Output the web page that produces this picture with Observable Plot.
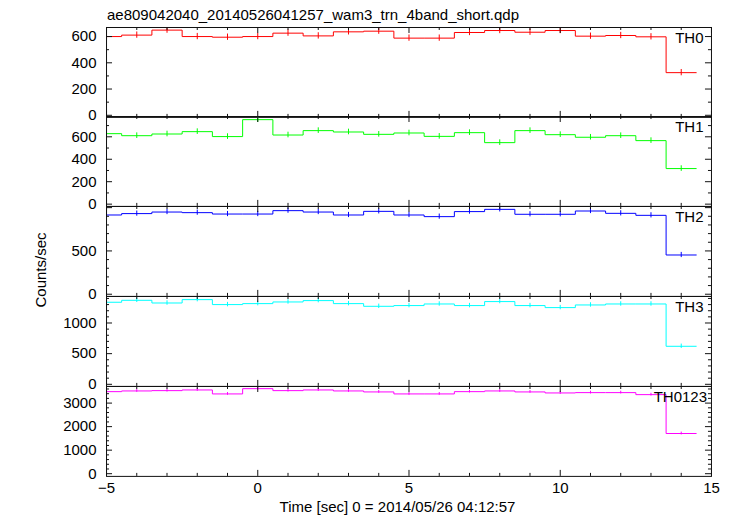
<!DOCTYPE html>
<html>
<head>
<meta charset="utf-8">
<script src="https://cdn.jsdelivr.net/npm/d3@7"></script>
<script src="https://cdn.jsdelivr.net/npm/@observablehq/plot@0.6"></script>
<style>
  html, body { margin: 0; padding: 0; background: white; }
  #chart { position: relative; width: 733px; height: 516px; background: white; overflow: hidden; }
  #chart svg { position: absolute; left: 0; }
</style>
</head>
<body>
<div id="chart"></div>
<script>
// ---- data ----
const title = "ae809042040_20140526041257_wam3_trn_4band_short.qdp";
const xLabel = "Time [sec] 0 = 2014/05/26 04:12:57";
const yLabel = "Counts/sec";
const bands = ["TH0", "TH1", "TH2", "TH3", "TH0123"];
const colors = ["#ff0000", "#00ff00", "#0000ff", "#00ffff", "#ff00ff"];
const times = [-5, -4, -3, -2, -1, 0, 1, 2, 3, 4, 5, 6, 7, 8, 9, 10, 11, 12, 13, 14];
const th0 = [600, 611, 649, 600, 595, 600, 626, 605, 636, 641, 588, 588, 631, 646, 633, 646, 603, 608, 598, 325];
const th1 = [628, 610, 625, 646, 602, 753, 616, 655, 643, 622, 634, 604, 637, 548, 655, 619, 596, 610, 566, 317];
const th2 = [915, 931, 949, 942, 926, 926, 965, 949, 915, 957, 915, 896, 954, 980, 923, 923, 961, 934, 911, 453];
const th3 = [1338, 1370, 1326, 1381, 1300, 1316, 1343, 1365, 1316, 1272, 1284, 1310, 1284, 1349, 1284, 1251, 1294, 1310, 1310, 620];
const th0123 = [3487, 3517, 3530, 3559, 3390, 3614, 3530, 3559, 3517, 3475, 3390, 3390, 3487, 3517, 3475, 3432, 3446, 3446, 3360, 1708];
const series = [th0, th1, th2, th3, th0123];
const errors = [24, 25, 30, 36, 59];           // estimated error bar half-length per band
const binWidth = 1;
const yDomains = [[-16, 669], [-20, 781], [-25, 1013], [-34, 1432], [-115, 3706]];
const yLabelTicks = [[0, 200, 400, 600], [0, 200, 400, 600], [0, 500], [0, 500, 1000], [0, 1000, 2000, 3000]];
const yMajorTicks = [[0, 200, 400, 600], [0, 200, 400, 600], [0, 500, 1000], [0, 500, 1000], [0, 1000, 2000, 3000]];
const yMinorTicks = [
  [100, 300, 500],
  [100, 300, 500, 700],
  [100, 200, 300, 400, 600, 700, 800, 900],
  [100, 200, 300, 400, 600, 700, 800, 900, 1100, 1200, 1300, 1400],
  [200, 400, 600, 800, 1200, 1400, 1600, 1800, 2200, 2400, 2600, 2800, 3200, 3400, 3600]
];
const xLabelTicks = [-5, 0, 5, 10, 15];
const xMajorTicks = [-5, 0, 5, 10, 15];
const xMinorTicks = [-4, -3, -2, -1, 1, 2, 3, 4, 6, 7, 8, 9, 11, 12, 13, 14];

// ---- layout ----
const W = 733, ML = 106, MR = 22;
const bounds = [26.5, 116.4, 206.3, 296.2, 386.1, 476];
const font = "'Liberation Sans', Arial, Helvetica, sans-serif";
const chart = document.getElementById("chart");
const innerW = W - ML - MR;
const fmt = d => (d < 0 ? "\u2212" : "") + Math.abs(d);

bands.forEach((band, i) => {
  const vals = series[i];
  const steps = vals.map((v, k) => ({x: times[k] - binWidth / 2, y: v}));
  steps.push({x: times[times.length - 1] + binWidth / 2, y: vals[vals.length - 1]});
  const pts = vals.map((v, k) => ({t: times[k], v, lo: v - errors[i], hi: v + errors[i]}));
  const innerH = bounds[i + 1] - bounds[i];
  const mt = 8, mb = i === 4 ? 40 : 8;
  const last = i === 4;
  const marks = [
    Plot.line(steps, {x: "x", y: "y", curve: "step-after", stroke: colors[i], strokeWidth: 1, clip: true}),
    Plot.ruleX(pts, {x: "t", y1: "lo", y2: "hi", stroke: colors[i], strokeWidth: 1, clip: true}),
    // inward y ticks left & right
    Plot.tickY(yMajorTicks[i], {y: d => d, insetRight: innerW - 6, stroke: "#111"}),
    Plot.tickY(yMinorTicks[i], {y: d => d, insetRight: innerW - 3, stroke: "#111"}),
    Plot.tickY(yMajorTicks[i], {y: d => d, insetLeft: innerW - 6, stroke: "#111"}),
    Plot.tickY(yMinorTicks[i], {y: d => d, insetLeft: innerW - 3, stroke: "#111"}),
    // inward x ticks top & bottom
    Plot.tickX(xMajorTicks, {x: d => d, insetTop: innerH - 6, stroke: "#111"}),
    Plot.tickX(xMinorTicks, {x: d => d, insetTop: innerH - 3, stroke: "#111"}),
    Plot.tickX(xMajorTicks, {x: d => d, insetBottom: innerH - 6, stroke: "#111"}),
    Plot.tickX(xMinorTicks, {x: d => d, insetBottom: innerH - 3, stroke: "#111"}),
    Plot.frame({stroke: "#111", strokeWidth: 1}),
    Plot.axisY(yLabelTicks[i], {tickSize: 0, tickPadding: 10, label: null, tickFormat: fmt, fontSize: 15, fill: "#000"}),
    Plot.text([band], {frameAnchor: "top-right", lineAnchor: "top", dx: last ? -4.5 : -8, dy: 5, fontSize: 15, fill: "#000"})
  ];
  if (last) marks.push(Plot.axisX(xLabelTicks, {tickSize: 0, tickPadding: 6, label: null, tickFormat: fmt, fontSize: 15, fill: "#000"}));
  const svg = Plot.plot({
    width: W,
    height: innerH + mt + mb,
    marginLeft: ML, marginRight: MR, marginTop: mt, marginBottom: mb,
    x: last ? {domain: [-5, 15]} : {domain: [-5, 15], axis: null},
    y: {domain: yDomains[i]},
    style: {background: "transparent", overflow: "visible", fontFamily: font, fontSize: "15px", color: "#000"},
    marks
  });
  svg.style.top = (bounds[i] - mt) + "px";
  chart.appendChild(svg);
});

// ---- title and axis labels ----
const overlay = d3.create("svg").attr("width", W).attr("height", 516)
  .style("top", "0px").style("pointer-events", "none")
  .style("font-family", font).style("font-size", "15px");
overlay.append("text").attr("x", 107).attr("y", 19.5).text(title);
overlay.append("text").attr("x", 397.5).attr("y", 511.5).attr("text-anchor", "middle").text(xLabel);
overlay.append("text").attr("transform", "translate(45.5,270) rotate(-90)").attr("text-anchor", "middle").text(yLabel);
chart.appendChild(overlay.node());
</script>
</body>
</html>
